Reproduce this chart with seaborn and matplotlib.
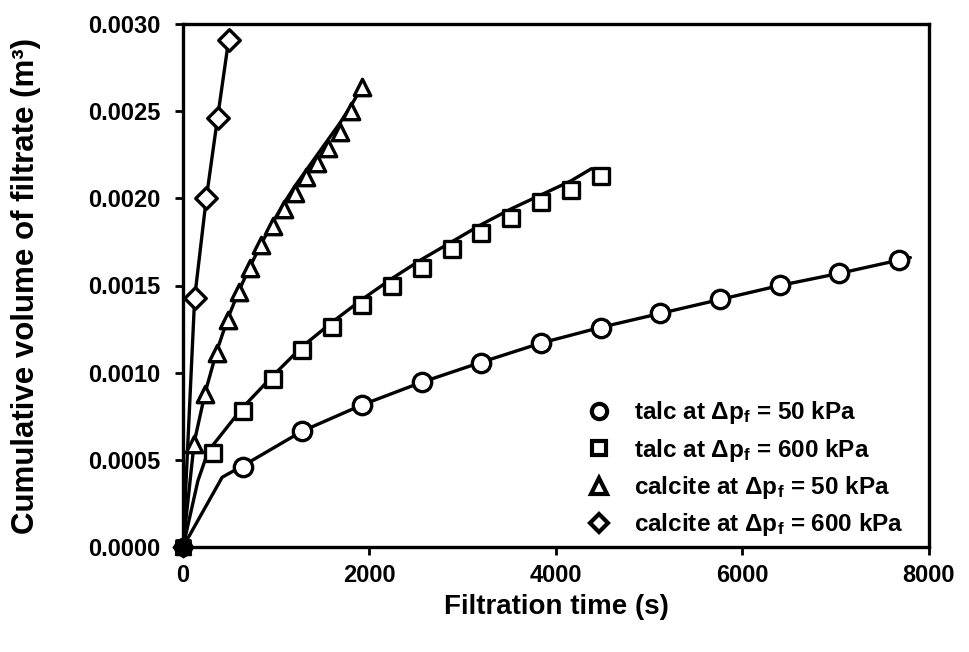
import numpy as np
import pandas as pd
import matplotlib
matplotlib.use("Agg")
import matplotlib.pyplot as plt
from matplotlib.lines import Line2D
import seaborn as sns

# Measured filtrate volumes (m^3) against filtration time (s)
talc50_t = [0, 640, 1280, 1920, 2560, 3200, 3840, 4480, 5120, 5760, 6400, 7040, 7680]
talc50_v = [0, 0.000459, 0.000665, 0.000815, 0.000946, 0.001055, 0.00117, 0.001256,
            0.001342, 0.001423, 0.001503, 0.001572, 0.001646]

talc600_t = [0, 320, 640, 960, 1280, 1600, 1920, 2240, 2560, 2880, 3200, 3520, 3840, 4160, 4480]
talc600_v = [0, 0.000539, 0.00078, 0.000964, 0.00113, 0.00126, 0.00139, 0.0015, 0.0016,
             0.00171, 0.0018, 0.00189, 0.00198, 0.00205, 0.00213]

calcite50_t = [0, 120, 240, 360, 480, 600, 720, 840, 960, 1080, 1200, 1320, 1440, 1560,
               1680, 1800, 1920]
calcite50_v = [0, 0.00059, 0.00088, 0.00111, 0.0013, 0.00146, 0.0016, 0.00173, 0.00184,
               0.00194, 0.00203, 0.00212, 0.0022, 0.00229, 0.00238, 0.0025, 0.00264]

calcite600_t = [0, 125, 250, 370, 490]
calcite600_v = [0, 0.00143, 0.002, 0.00246, 0.00291]

# Model curves
talc50_fit_t = [0, 420, 520, 640, 1280, 1920, 2560, 3200, 3840, 4480, 5120, 5760, 6400, 7040, 7800]
talc50_fit_v = [0, 0.0004, 0.00043, 0.000465, 0.000665, 0.000815, 0.000945, 0.00106, 0.00117,
                0.00126, 0.00134, 0.00142, 0.0015, 0.00157, 0.00166]

talc600_fit_t = [0, 160, 270, 640, 960, 1280, 1600, 1920, 2240, 2560, 2880, 3200, 3520, 3840,
                 4160, 4380]
talc600_fit_v = [0, 0.00038, 0.00055, 0.0008, 0.00098, 0.00115, 0.00129, 0.00142, 0.00154,
                 0.00165, 0.00175, 0.00185, 0.00194, 0.00202, 0.0021, 0.00217]

calcite50_fit_t = [0, 120, 240, 360, 480, 600, 720, 840, 960, 1080, 1200, 1320, 1440, 1560,
                   1680, 1800, 1920]
calcite50_fit_v = [0, 0.0006, 0.00089, 0.00112, 0.00131, 0.00147, 0.00161, 0.00174, 0.00186,
                   0.00197, 0.00207, 0.00216, 0.00225, 0.00234, 0.00243, 0.00253, 0.00264]

calcite600_fit_t = [0, 125, 250, 370, 490]
calcite600_fit_v = [0, 0.00143, 0.002, 0.00246, 0.00291]

labels = [
    r"talc at $\Delta$p$_f$ = 50 kPa",
    r"talc at $\Delta$p$_f$ = 600 kPa",
    r"calcite at $\Delta$p$_f$ = 50 kPa",
    r"calcite at $\Delta$p$_f$ = 600 kPa",
]
series_markers = ["o", "s", "^", "D"]
marker_sizes = [175, 125, 140, 120]

x_ticks = [0, 2000, 4000, 6000, 8000]
y_ticks = [0.0, 0.0005, 0.0010, 0.0015, 0.0020, 0.0025, 0.0030]

sns.set_theme(style="white")
plt.rcParams.update({
    "font.family": ["Liberation Sans", "DejaVu Sans"],
    "font.weight": "bold",
    "text.color": "black",
    "axes.labelcolor": "black",
    "xtick.color": "black",
    "ytick.color": "black",
    "mathtext.fontset": "custom",
    "mathtext.rm": "Liberation Sans:bold",
    "mathtext.it": "Liberation Sans:bold",
    "mathtext.bf": "Liberation Sans:bold",
})

measured = [(talc50_t, talc50_v), (talc600_t, talc600_v),
            (calcite50_t, calcite50_v), (calcite600_t, calcite600_v)]
fitted = [(talc50_fit_t, talc50_fit_v), (talc600_fit_t, talc600_fit_v),
          (calcite50_fit_t, calcite50_fit_v), (calcite600_fit_t, calcite600_fit_v)]

pts = pd.concat([pd.DataFrame({"time": t, "volume": v, "series": lab})
                 for (t, v), lab in zip(measured, labels)], ignore_index=True)
fits = pd.concat([pd.DataFrame({"time": t, "volume": v, "series": lab})
                  for (t, v), lab in zip(fitted, labels)], ignore_index=True)

fig = plt.figure(figsize=(9.7, 6.52), dpi=100)
ax = fig.add_axes([183 / 970, 1 - 547 / 652, (929 - 183) / 970, (547 - 24) / 652])

sns.lineplot(data=fits, x="time", y="volume", units="series", estimator=None, sort=False,
             color="black", linewidth=2.4, ax=ax, legend=False, zorder=2)

for lab, mk, s in zip(labels, series_markers, marker_sizes):
    sub = pts[pts["series"] == lab]
    sns.scatterplot(data=sub[sub["time"] > 0], x="time", y="volume", marker=mk, s=s,
                    facecolor="white", edgecolor="black", linewidth=2.4, ax=ax,
                    legend=False, zorder=3, clip_on=False)
    # the overlapping start points merge into a solid dot at the origin
    sns.scatterplot(data=sub[sub["time"] == 0], x="time", y="volume", marker=mk, s=s * 0.8,
                    color="black", edgecolor="black", linewidth=2, ax=ax,
                    legend=False, zorder=4, clip_on=False)

ax.set_xlim(0, 8000)
ax.set_ylim(0, 0.003)
ax.set_xticks(x_ticks)
ax.set_yticks(y_ticks)
ax.set_xticklabels([f"{v:d}" for v in x_ticks])
ax.set_yticklabels([f"{v:.4f}" for v in y_ticks])
ax.tick_params(axis="both", direction="out", length=6, width=2, colors="black",
               labelsize=17, bottom=True, left=True)
ax.tick_params(axis="y", pad=10)
ax.tick_params(axis="x", pad=6)
for lab in ax.get_xticklabels() + ax.get_yticklabels():
    lab.set_fontweight("bold")

for sp in ax.spines.values():
    sp.set_visible(True)
    sp.set_color("black")
    sp.set_linewidth(2.4)

ax.set_xlabel("Filtration time (s)", fontsize=20, fontweight="bold", labelpad=5)
ax.set_ylabel("Cumulative volume of filtrate (m³)", fontsize=22.5, fontweight="bold",
              labelpad=34)

handles = [Line2D([], [], marker=mk, linestyle="none", markerfacecolor="white",
                  markeredgecolor="black", markersize=ms, markeredgewidth=3)
           for mk, ms in zip(series_markers, [11, 10, 11, 9])]
leg = ax.legend(handles, labels, loc="upper left", bbox_to_anchor=(0.525, 0.306),
                frameon=False, fontsize=17.5, handlelength=1.0, handletextpad=0.95,
                labelspacing=0.43, borderpad=0)
for txt in leg.get_texts():
    txt.set_fontweight("bold")

fig.savefig("out.png", dpi=100, facecolor="white")
